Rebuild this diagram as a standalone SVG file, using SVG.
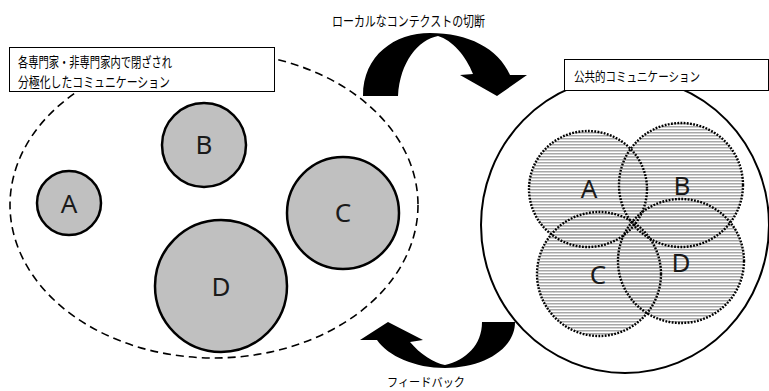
<svg xmlns="http://www.w3.org/2000/svg" width="769" height="391" viewBox="0 0 769 391">
<style>
.jp{font-family:"Noto Sans CJK JP","Noto Sans",sans-serif;fill:#000}
.lbl{font-family:"Noto Sans","DejaVu Sans",sans-serif;font-size:26px;fill:#1a1a1a;text-anchor:middle}
.solid{fill:#c0c0c0;stroke:#000;stroke-width:2.5}
.hatchfill{fill:url(#stripes);stroke:none}
.dotted{fill:none;stroke:#000;stroke-width:2.4;stroke-dasharray:1.8 1.4}
.box{fill:#fff;stroke:#000;stroke-width:1}
.arrow{fill:#000}
</style>
<defs>
<pattern id="stripes" patternUnits="userSpaceOnUse" width="8" height="3">
<rect y="0" width="8" height="1.5" fill="#a8a8a8"/>
</pattern>
</defs>
<rect width="769" height="391" fill="#fff"/>

<g id="left-group">
<ellipse cx="214" cy="205" rx="204" ry="153" fill="none" stroke="#000" stroke-width="1.6" stroke-dasharray="8 5"/>
</g>
<g id="left-label">
<rect class="box" x="9.5" y="47.5" width="265" height="44"/>
<text class="jp" x="18" y="67" font-size="14" textLength="154" lengthAdjust="spacingAndGlyphs">各専門家・非専門家内で閉ざされ</text>
<text class="jp" x="18" y="87" font-size="14" textLength="152" lengthAdjust="spacingAndGlyphs">分極化したコミュニケーション</text>
</g>
<g id="left-A"><circle class="solid" cx="69" cy="203" r="32"/><text class="lbl" x="69" y="213">A</text></g>
<g id="left-B"><circle class="solid" cx="204" cy="145" r="42"/><text class="lbl" x="204" y="154">B</text></g>
<g id="left-C"><circle class="solid" cx="343" cy="213" r="56"/><text class="lbl" x="343" y="222">C</text></g>
<g id="left-D"><circle class="solid" cx="221" cy="286" r="66"/><text class="lbl" x="221" y="296">D</text></g>

<g id="right-group">
<ellipse cx="625" cy="225" rx="144" ry="148" fill="#fff" stroke="#000" stroke-width="2"/>
</g>
<g id="right-label">
<rect class="box" x="564.5" y="59.5" width="204" height="31"/>
<text class="jp" x="574" y="81" font-size="13" textLength="126" lengthAdjust="spacingAndGlyphs">公共的コミュニケーション</text>
</g>
<g id="right-A"><ellipse class="hatchfill" cx="588" cy="189" rx="59" ry="58"/><text class="lbl" x="589" y="198">A</text></g>
<g id="right-B"><ellipse class="hatchfill" cx="681" cy="185" rx="62" ry="62"/><text class="lbl" x="682" y="195">B</text></g>
<g id="right-C"><ellipse class="hatchfill" cx="599" cy="274" rx="62" ry="62"/><text class="lbl" x="598" y="284">C</text></g>
<g id="right-D"><ellipse class="hatchfill" cx="681" cy="261" rx="63" ry="62"/><text class="lbl" x="681" y="272">D</text></g>
<g id="right-outlines">
<ellipse class="dotted" cx="588" cy="189" rx="59" ry="58"/>
<ellipse class="dotted" cx="681" cy="185" rx="62" ry="62"/>
<ellipse class="dotted" cx="599" cy="274" rx="62" ry="62"/>
<ellipse class="dotted" cx="681" cy="261" rx="63" ry="62"/>
</g>

<g id="connectors">
<path class="arrow" d="M363,96 C363,55 395,33 430,33 C468,33 498,48 510,75 L527,75 L497,96 L460,75 L473,74 C466,56 452,40 438,36 C418,40 400,62 398,96 Z"/>
<path class="arrow" d="M515,322 C515,350 482,368 445,368 C415,368 388,356 377,340 L360,340 L388,322 L423,340 L410,342 C420,354 434,363 445,365 C466,360 482,345 482,322 Z"/>
<text class="jp" x="332" y="26" font-size="14" textLength="153" lengthAdjust="spacingAndGlyphs">ローカルなコンテクストの切断</text>
<text class="jp" x="387" y="387" font-size="12" textLength="78" lengthAdjust="spacingAndGlyphs">フィードバック</text>
</g>
</svg>
